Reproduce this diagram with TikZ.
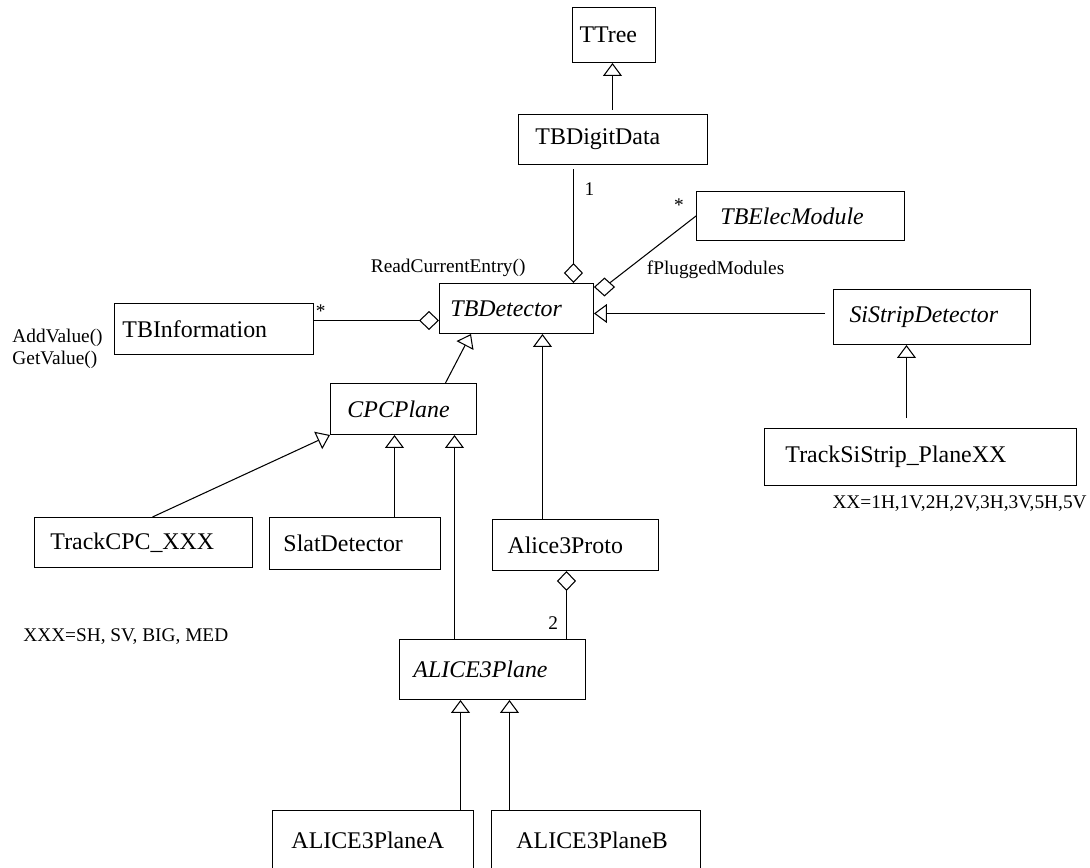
\documentclass[tikz,border=0pt]{standalone}
\usepackage{fontspec}
\setmainfont{Liberation Serif}
\usepackage{tikz}
\usetikzlibrary{
  arrows.meta, positioning, calc, shapes.geometric
}
\newcommand{\fmain}{\fontsize{13.6}{16}\selectfont}
\newcommand{\fsmall}{\fontsize{11}{12.5}\selectfont}
\tikzset{
  % Class boxes: text width, left padding
  umlclass/.style 2 args={
    rectangle, draw=black, line width=0.6pt, fill=white,
    anchor=north west, align=left, text width=#1, inner xsep=#2,
    inner ysep=0pt, outer sep=0.01cm, font=\fmain,
  },
  % Abstract classes
  abstract/.style={font=\fmain\itshape},
  % Inheritance
  inherit/.style={-{Triangle[open, length=0.26cm, width=0.38cm]}, line width=0.6pt},
  % Aggregation
  aggreg/.style={{Diamond[open, length=0.4cm, width=0.38cm]}-, line width=0.6pt},
  % Loose aggregation diamond
  aggmark/.style={diamond, draw=black, fill=white, line width=0.6pt,
    minimum width=0.4cm, minimum height=0.36cm, inner sep=0pt},
  % Multiplicities and notes
  umllabel/.style={font=\fsmall, inner sep=0pt},
}

\begin{document}
\begin{tikzpicture}[x=0.02cm, y=-0.02cm]
  \useasboundingbox (0,0) rectangle (1090,867);

  % Top
  \node[umlclass={1.38cm}{0.14cm}, minimum height=1.1cm] (ttree) at (572,7) {TTree};
  \node[umlclass={3.10cm}{0.34cm}, minimum height=1.0cm] (digit) at (518,114) {TBDigitData};
  \node[umlclass={3.20cm}{0.48cm}, abstract, minimum height=0.98cm] (elec) at (696,191) {TBElecModule};

  % Detector level
  \node[umlclass={2.64cm}{0.22cm}, abstract, minimum height=1.0cm] (det) at (439,283) {TBDetector};
  \node[umlclass={3.66cm}{0.16cm}, minimum height=1.02cm] (info) at (114,303) {TBInformation};
  \node[umlclass={3.30cm}{0.32cm}, abstract, minimum height=1.1cm] (sistrip) at (833,289) {SiStripDetector};
  \node[umlclass={2.24cm}{0.34cm}, abstract, minimum height=1.02cm] (cpc) at (330,383) {CPCPlane};
  \node[umlclass={5.40cm}{0.42cm}, minimum height=1.14cm] (tracksi) at (764,428) {TrackSiStrip\_PlaneXX};

  % Concrete detectors
  \node[umlclass={3.72cm}{0.32cm}, minimum height=1.0cm] (trackcpc) at (34,517) {TrackCPC\_XXX};
  \node[umlclass={2.86cm}{0.28cm}, minimum height=1.04cm] (slat) at (269,517) {SlatDetector};
  \node[umlclass={2.72cm}{0.30cm}, minimum height=1.02cm] (proto) at (492,519) {Alice3Proto};

  % ALICE3 planes
  \node[umlclass={3.16cm}{0.28cm}, abstract, minimum height=1.2cm] (a3plane) at (399,639) {ALICE3Plane};
  \node[umlclass={3.26cm}{0.38cm}, minimum height=1.2cm] (a3a) at (272,810) {ALICE3PlaneA};
  \node[umlclass={3.18cm}{0.50cm}, minimum height=1.2cm] (a3b) at (491,810) {ALICE3PlaneB};

  % Notes
  \node[umllabel, align=left, anchor=east] (infoops) at ([xshift=-0.22cm, yshift=-0.4cm]info.west) {AddValue()\\GetValue()};
  \node[umllabel, anchor=west] (cpcnote) at ([xshift=-0.22cm, yshift=-1.38cm]trackcpc.south west) {XXX=SH, SV, BIG, MED};
  \node[umllabel, anchor=east] (sinote) at (1087,504) {XX=1H,1V,2H,2V,3H,3V,5H,5V};

  % Helper points
  \coordinate (dd) at ([xshift=2.69cm]det.north west);
  \coordinate (id) at ([yshift=-0.24cm]det.west);
  \coordinate (sd) at ([yshift=-0.10cm]det.east);
  \coordinate (si) at ([xshift=-0.51cm]sistrip.south);
  \coordinate (dp) at ([xshift=0.52cm]det.south);
  \coordinate (cs) at ([xshift=-0.18cm]cpc.south);
  \coordinate (ca) at ([xshift=1.02cm]cpc.south);
  \coordinate (pa) at ([xshift=-0.18cm]proto.south);
  \coordinate (aa) at ([xshift=-0.64cm]a3plane.south);
  \coordinate (ab) at ([xshift=0.34cm]a3plane.south);
  \coordinate (dt) at ([xshift=-0.01cm]digit.north);
  \node[aggmark, anchor=west] (edmark) at ([yshift=-0.08cm]det.north east) {};

  % Inheritance
  \draw[inherit, shorten <=0.08cm] (dt) -- (dt |- ttree.south);
  \draw[inherit, shorten <=0.16cm] (sd -| sistrip.west) -- (sd);
  \draw[inherit, shorten <=0.2cm] (si |- tracksi.north) -- (si);
  \draw[inherit] ([xshift=0.84cm]cpc.north) -- ([xshift=0.64cm]det.south west);
  \draw[inherit] (dp |- proto.north) -- (dp);
  \draw[inherit] ([xshift=0.18cm]trackcpc.north) -- (cpc.south west);
  \draw[inherit] (cs |- slat.north) -- (cs);
  \draw[inherit] (ca |- a3plane.north) -- (ca);
  \draw[inherit] (aa |- a3a.north) -- (aa);
  \draw[inherit] (ab |- a3b.north) -- (ab);

  % Aggregation
  \draw[aggreg] (dd) -- ++(0,-114)
    node[umllabel, pos=0.13, left=0.95cm] {ReadCurrentEntry()}
    node[umllabel, pos=0.82, right=0.21cm] {1};
  \draw[line width=0.6pt] (edmark) -- (elec.west)
    node[umllabel, pos=0.2, right=0.38cm] {fPluggedModules}
    node[umllabel, at end, xshift=-0.34cm, yshift=0.21cm] {*};
  \draw[aggreg] (id) -- (id -| info.east)
    node[umllabel, at end, anchor=south west, xshift=0.03cm, yshift=0.04cm] {*};
  \draw[aggreg] (pa) -- (pa |- a3plane.north)
    node[umllabel, pos=0.77, left=0.16cm] {2};

\end{tikzpicture}
\end{document}
